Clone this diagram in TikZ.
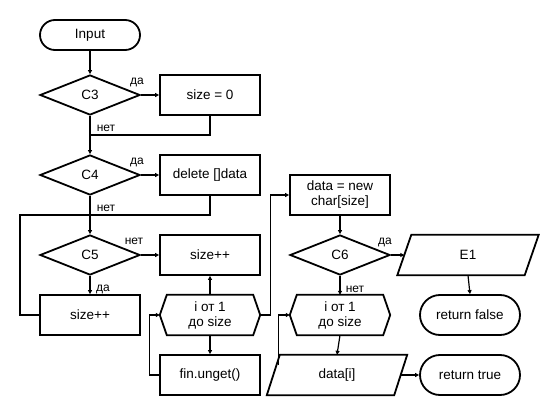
\documentclass[tikz,border=0pt]{standalone}
\usepackage{fontspec}
\setmainfont{Liberation Sans}
\usetikzlibrary{shapes.geometric,arrows.meta,calc}
\begin{document}
\begin{tikzpicture}[x=1pt,y=-1pt,
  font=\fontsize{13.5}{15}\selectfont,
  box/.style={draw, line width=1.8pt, minimum width=100pt, minimum height=40pt, inner sep=0pt, align=center},
  term/.style={box, rounded corners=15pt, minimum height=30pt},
  termb/.style={box, rounded corners=20pt},
  dec/.style={draw, diamond, line width=1.8pt, minimum width=100pt, minimum height=40pt, inner sep=0pt},
  ghost/.style={minimum width=100pt, minimum height=40pt, inner sep=0pt, align=center},
  shp/.style={line width=1.8pt, line join=miter},
  line/.style={line width=1.2pt},
  conn/.style={line, -{Triangle[length=4pt,width=4pt]}},
  lbl/.style={font=\fontsize{12}{14}\selectfont, inner sep=0pt}]
\useasboundingbox (0,0) rectangle (550,415);

% nodes
\node[term] (in) at (90,35) {Input};
\node[dec] (c3) at (90,95) {C3};
\node[box] (s0) at (210,95) {size = 0};
\node[dec] (c4) at (90,175) {C4};
\node[box] (del) at (210,175) {delete []data};
\node[dec] (c5) at (90,255) {C5};
\node[box] (inc2) at (210,255) {size++};
\node[box] (inc1) at (90,315) {size++};
\node[ghost] (h1) at (210,315) {i от 1\\до size};
\draw[shp] (h1.west) -- ($(h1.north west)+(7,0)$) -- ($(h1.north east)+(-7,0)$) -- (h1.east) -- ($(h1.south east)+(-7,0)$) -- ($(h1.south west)+(7,0)$) -- cycle;
\node[box] (fin) at (210,375) {fin.unget()};
\node[box] (dn) at (340,195) {data = new\\char[size]};
\node[dec] (c6) at (340,255) {C6};
\node[ghost, minimum width=127pt] (e1) at (468,255) {E1};
\draw[shp] ($(e1.north west)+(7,0)$) -- ($(e1.north east)+(7,0)$) -- ($(e1.south east)+(-7,0)$) -- ($(e1.south west)+(-7,0)$) -- cycle;
\node[termb] (rf) at (470,315) {return false};
\node[ghost] (h2) at (340,315) {i от 1\\до size};
\draw[shp] (h2.west) -- ($(h2.north west)+(7,0)$) -- ($(h2.north east)+(-7,0)$) -- (h2.east) -- ($(h2.south east)+(-7,0)$) -- ($(h2.south west)+(7,0)$) -- cycle;
\node[ghost, minimum width=127pt] (di) at (337,375) {data[i]};
\draw[shp] ($(di.north west)+(6.5,0)$) -- ($(di.north east)+(6.5,0)$) -- ($(di.south east)+(-6.5,0)$) -- ($(di.south west)+(-6.5,0)$) -- cycle;
\node[termb] (rt) at (470,375) {return true};

\coordinate (j1) at (90,135);
\coordinate (j2) at (90,215);
\coordinate (j2l) at (20,215);

% connectors
\draw[conn] (in.south) -- (c3.north);
\draw[conn] (c3.east) -- (s0.west);
\draw[conn] (c3.south) -- (c4.north);
\draw[line] (s0.south) |- (j1);
\draw[conn] (c4.east) -- (del.west);
\draw[conn] (c4.south) -- (c5.north);
\draw[line] (del.south) |- (j2);
\draw[line] (inc1.west) -| (j2l) -- (j2);
\draw[conn] (c5.east) -- (inc2.west);
\draw[conn] (c5.south) -- (inc1.north);
\draw[conn] (h1.north) -- (inc2.south);
\draw[conn] (h1.south) -- (fin.north);
\draw[conn] (fin.west) -- ++(-10,0) |- (h1.west);
\draw[conn] (h1.east) -- ++(10,0) |- (dn.west);
\draw[conn] (dn.south) -- (c6.north);
\draw[conn] (c6.east) -- (e1.west);
\draw[conn] (e1.south) -- (rf.north);
\draw[conn] (c6.south) -- (h2.north);
\draw[conn] (h2.south) -- (di.north);
\draw[conn] (di.east) -- (rt.west);
\draw[conn] ($(di.west)+(5,-10)$) |- (h2.west);

% labels
\node[lbl] (l1) at (137,82) {да};
\node[lbl] (l2) at (106,128) {нет};
\node[lbl] (l3) at (137,162) {да};
\node[lbl] (l4) at (106,208) {нет};
\node[lbl] (l5) at (134,241) {нет};
\node[lbl] (l6) at (103,289) {да};
\node[lbl] (l7) at (385,242) {да};
\node[lbl] (l8) at (355,289) {нет};
\end{tikzpicture}
\end{document}
